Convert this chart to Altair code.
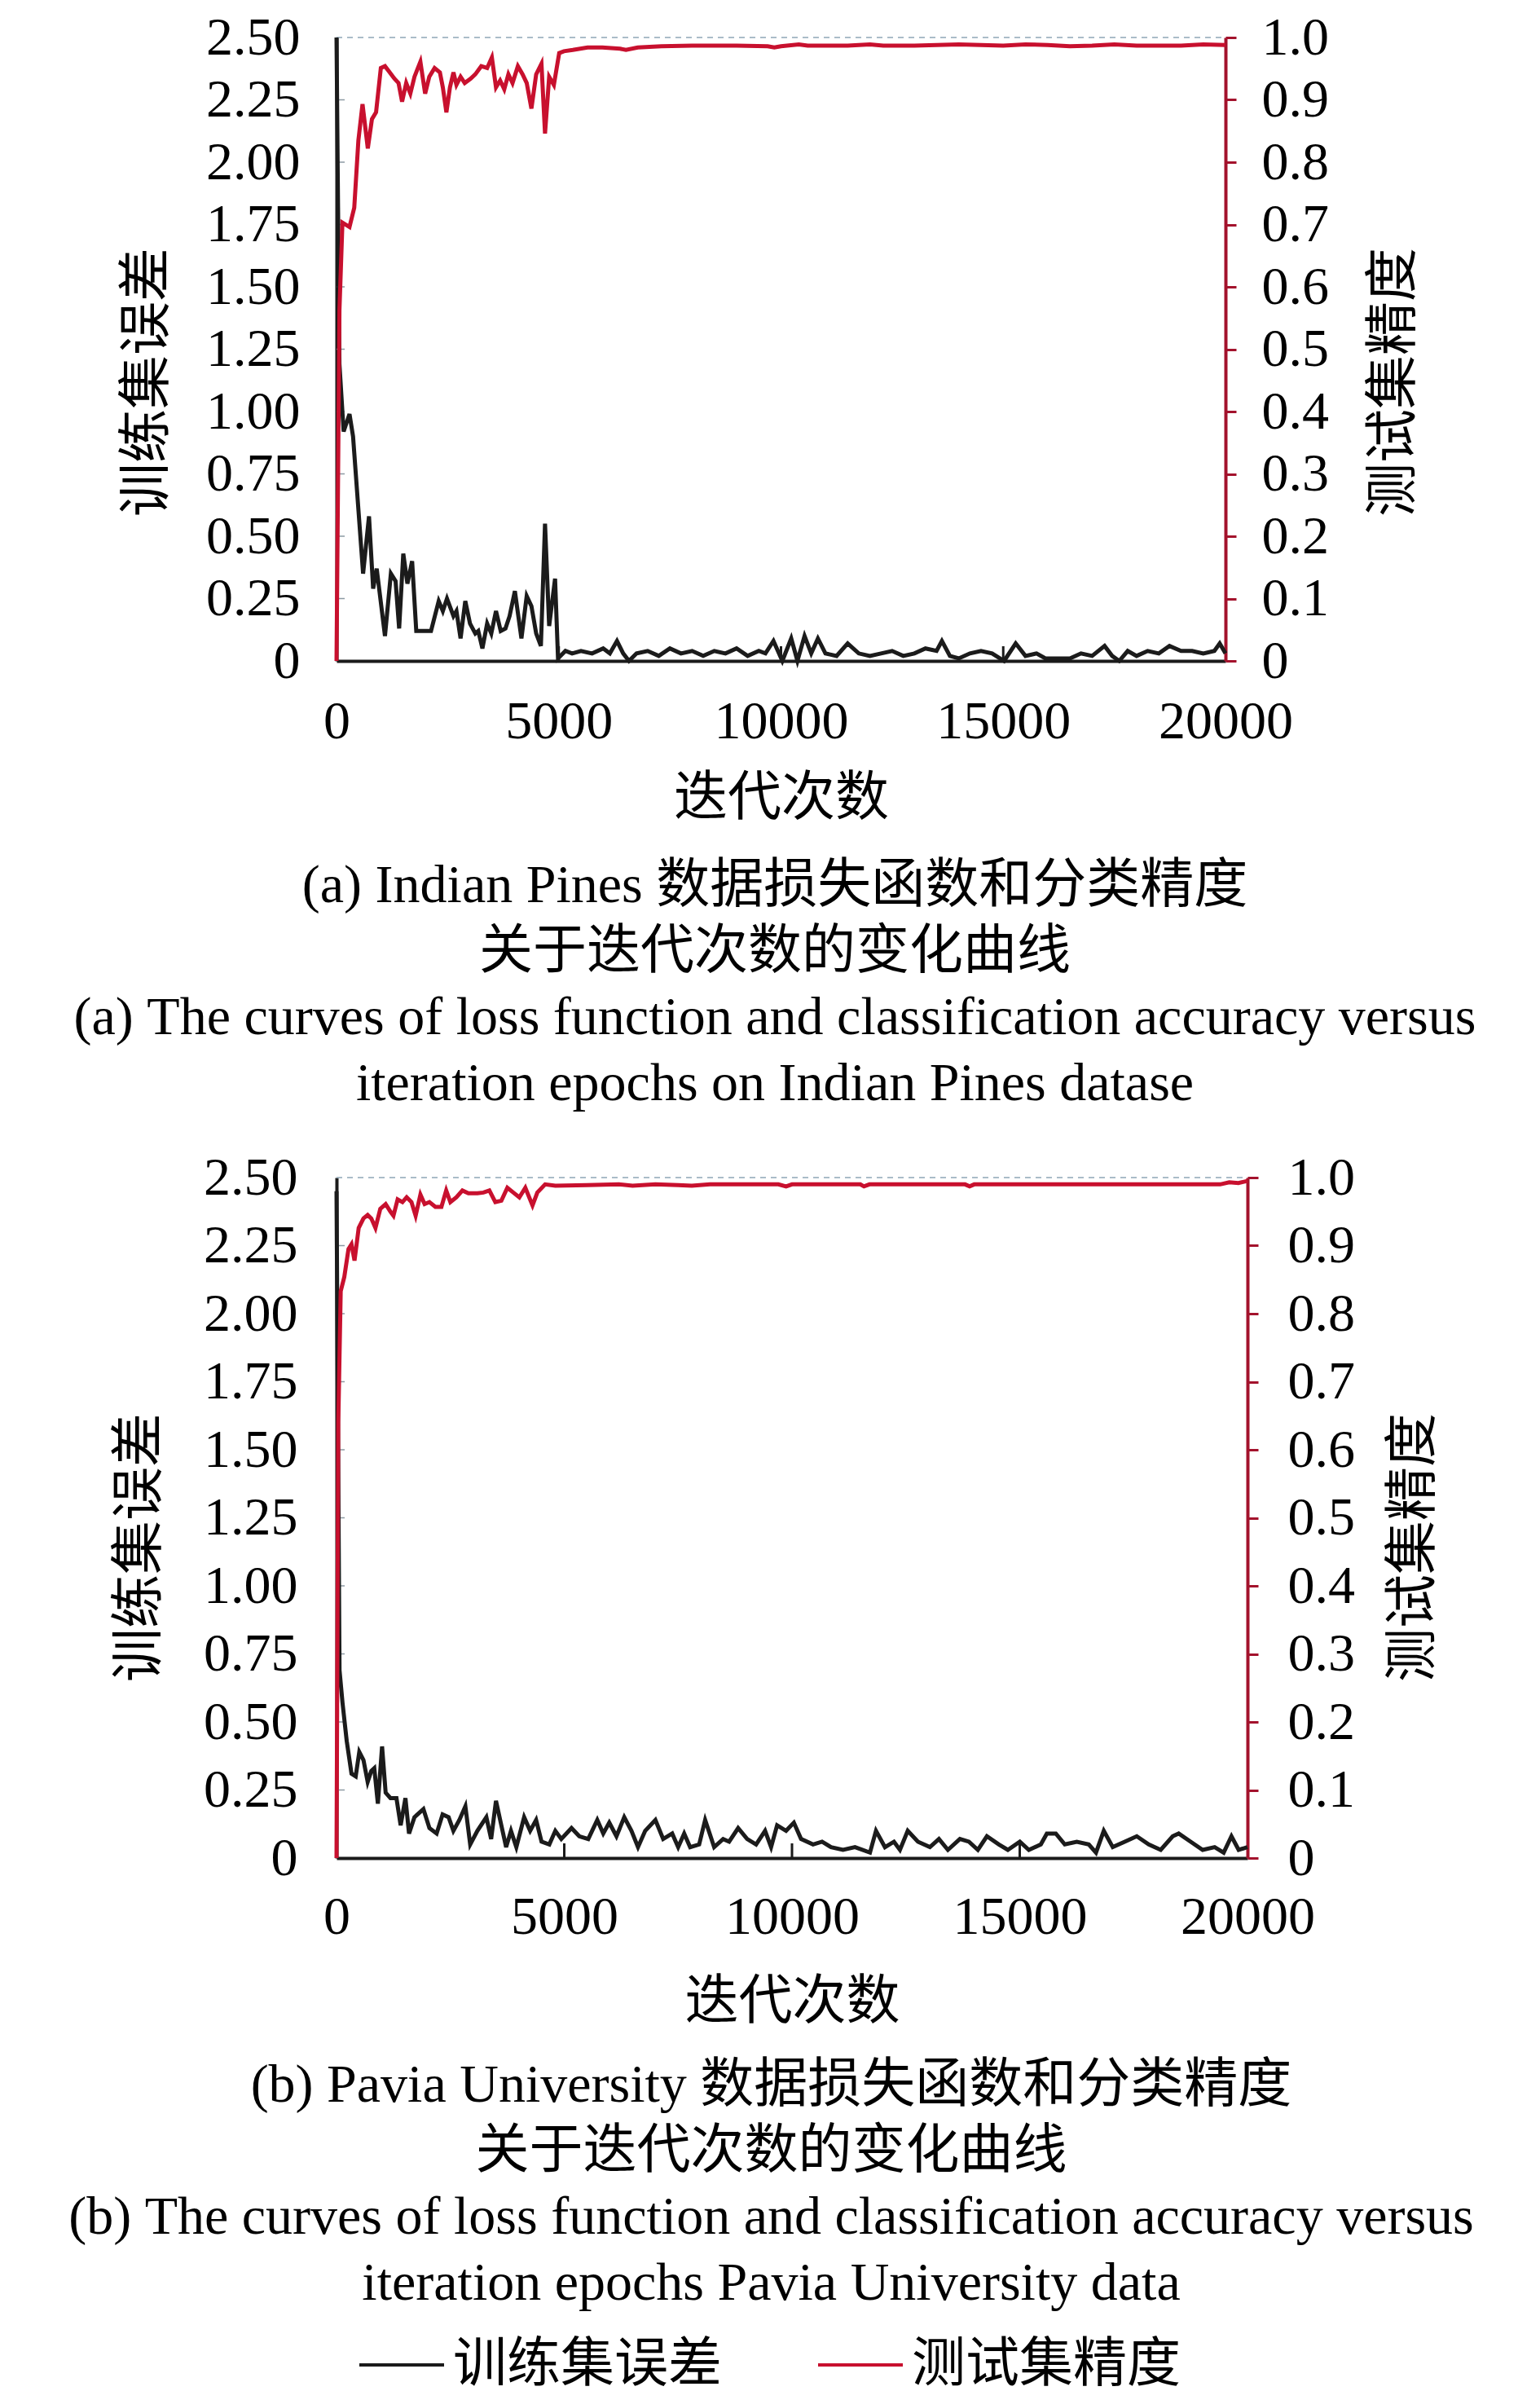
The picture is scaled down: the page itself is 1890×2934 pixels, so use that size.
import altair as alt
import pandas as pd

# ---------------- data ----------------
X_TICKS = [0, 5000, 10000, 15000, 20000]
X_INNER_TICKS = [5000, 10000, 15000]
LEFT_VALUES = [0, 0.25, 0.5, 0.75, 1.0, 1.25, 1.5, 1.75, 2.0, 2.25, 2.5]
LEFT_INNER_TICKS = [0.25, 0.5, 0.75, 1.0, 1.25, 1.5, 1.75, 2.0, 2.25]
RIGHT_VALUES = [0, 0.1, 0.2, 0.3, 0.4, 0.5, 0.6, 0.7, 0.8, 0.9, 1.0]
LEGEND_LABELS = ["训练集误差", "测试集精度"]
X_TITLE = "迭代次数"
LEFT_TITLE = "训练集误差"
RIGHT_TITLE = "测试集精度"

CAPTION_A = ["(a) Indian Pines 数据损失函数和分类精度",
             "关于迭代次数的变化曲线",
             "(a) The curves of loss function and classification accuracy versus",
             "iteration epochs on Indian Pines datase"]
CAPTION_B = ["(b) Pavia University 数据损失函数和分类精度",
             "关于迭代次数的变化曲线",
             "(b) The curves of loss function and classification accuracy versus",
             "iteration epochs Pavia University data"]

# (a) Indian Pines - training loss
A_LOSS_IT = [0, 66, 160, 292, 372, 598, 731, 824, 904, 1090, 1223, 1329, 1409, 1502, 1595,
             1701, 1794, 1967, 2126, 2299, 2392, 2485, 2631, 2698, 2791, 2897, 3003, 3123, 3189,
             3282, 3389, 3482, 3588, 3694, 3801, 3894, 4013, 4160, 4279, 4385, 4492, 4598, 4691,
             4784, 4917, 4983,
             5150, 5300, 5500, 5750, 6000, 6150, 6310, 6450, 6580, 6750, 7000, 7250, 7500, 7750,
             8000, 8250, 8500, 8750, 9000, 9250, 9500, 9650, 9830, 10030, 10230, 10370, 10530,
             10680, 10830, 11000, 11250, 11500, 11750, 12000, 12250, 12500, 12750, 13000, 13250,
             13500, 13620, 13800, 14000, 14250, 14500, 14750, 15020, 15280, 15500, 15750, 15950,
             16250, 16500, 16750, 17000, 17280, 17450, 17610, 17800, 18000, 18250, 18500, 18740,
             19000, 19250, 19500, 19750, 19870, 20000]
A_LOSS_V = [2.50, 1.19, 0.92, 0.99, 0.90, 0.35, 0.58, 0.29, 0.37, 0.10, 0.35, 0.32, 0.13, 0.43, 0.31,
            0.40, 0.12, 0.12, 0.12, 0.24, 0.20, 0.25, 0.18, 0.20, 0.09, 0.24, 0.15, 0.11, 0.12,
            0.05, 0.15, 0.11, 0.20, 0.12, 0.13, 0.18, 0.28, 0.09, 0.26, 0.22, 0.11, 0.06, 0.55,
            0.14, 0.33, 0.01,
            0.04, 0.03, 0.04, 0.03, 0.05, 0.03, 0.08, 0.03, 0.00, 0.03, 0.04, 0.02, 0.05, 0.03,
            0.04, 0.02, 0.04, 0.03, 0.05, 0.02, 0.04, 0.03, 0.08, 0.00, 0.09, 0.00, 0.10,
            0.03, 0.09, 0.03, 0.02, 0.07, 0.03, 0.02, 0.03, 0.04, 0.02, 0.03, 0.05,
            0.04, 0.08, 0.02, 0.01, 0.03, 0.04, 0.03, 0.00, 0.07, 0.02, 0.03, 0.01,
            0.01, 0.01, 0.03, 0.02, 0.06, 0.02, 0.00, 0.04, 0.02, 0.04, 0.03, 0.06,
            0.04, 0.04, 0.03, 0.04, 0.07, 0.03]

# (a) Indian Pines - test accuracy
A_ACC_IT = [0, 66, 133, 292, 399, 492, 585, 704, 797, 890, 997, 1090, 1196, 1302, 1395,
            1475, 1568, 1661, 1754, 1887, 1994, 2087, 2206, 2326, 2392, 2472, 2552, 2631, 2698,
            2791, 2884, 3017, 3123, 3256, 3389, 3495, 3588, 3681, 3774, 3867, 3960, 4080, 4186,
            4279, 4385, 4492, 4611, 4691, 4784, 4890, 5010, 5116, 5316, 5648, 5980, 6379, 6512,
            6778, 7310, 8000, 9000, 9700, 9850, 10000, 10400, 10600, 11500, 12000, 12300, 13000,
            14000, 14500, 15000, 15500, 16000, 16500, 17000, 17500, 18000, 18500, 19000, 19500,
            20000]
A_ACC_V = [0.0, 0.563, 0.703, 0.696, 0.727, 0.835, 0.893, 0.822, 0.869, 0.880, 0.951, 0.954, 0.944,
           0.934, 0.927, 0.897, 0.927, 0.910, 0.937, 0.961, 0.910, 0.937, 0.951, 0.944, 0.920,
           0.880, 0.920, 0.944, 0.924, 0.937, 0.927, 0.934, 0.941, 0.954, 0.951, 0.968, 0.920,
           0.931, 0.917, 0.941, 0.927, 0.954, 0.941, 0.927, 0.886, 0.941, 0.958, 0.846, 0.937,
           0.924, 0.975, 0.978, 0.980, 0.984, 0.984, 0.982, 0.980, 0.984, 0.986, 0.987, 0.987,
           0.986, 0.984, 0.986, 0.989, 0.987, 0.987, 0.989, 0.987, 0.987, 0.989, 0.988, 0.987,
           0.989, 0.988, 0.986, 0.987, 0.989, 0.987, 0.987, 0.987, 0.989, 0.988]

# (b) Pavia University - training loss
B_LOSS_IT = [0, 66, 132, 224, 329, 421, 500, 592, 684, 763,
             829, 908, 1000, 1079, 1184, 1316, 1408, 1513, 1592, 1711,
             1908, 2040, 2198, 2329, 2461, 2566, 2698, 2829, 2935, 3093,
             3290, 3395, 3501, 3619, 3724, 3830, 3948, 4119, 4251, 4382,
             4501, 4672, 4804, 4935, 5159, 5330, 5527, 5725, 5856, 5988,
             6146, 6317, 6475, 6619, 6777, 7001, 7172, 7370, 7501, 7633,
             7764, 7962, 8093, 8291, 8488, 8620, 8817, 9015, 9212, 9409,
             9541, 9673, 9870, 10041, 10199, 10462, 10660, 10857, 11120, 11383,
             11712, 11844, 12041, 12239, 12370, 12541, 12765, 13028, 13226, 13423,
             13686, 13884, 14081, 14279, 14542, 14739, 15002, 15200, 15463, 15595,
             15792, 15989, 16253, 16516, 16674, 16845, 17042, 17305, 17569, 17832,
             18095, 18358, 18490, 18753, 19016, 19279, 19477, 19648, 19806, 20000]
B_LOSS_V = [2.45, 0.69, 0.57, 0.43, 0.31, 0.30, 0.39, 0.36, 0.28, 0.32,
            0.33, 0.20, 0.41, 0.24, 0.22, 0.22, 0.12, 0.22, 0.09, 0.15,
            0.18, 0.11, 0.09, 0.16, 0.15, 0.10, 0.14, 0.19, 0.05, 0.10,
            0.15, 0.07, 0.21, 0.12, 0.04, 0.10, 0.04, 0.15, 0.10, 0.14,
            0.06, 0.05, 0.10, 0.07, 0.11, 0.08, 0.07, 0.14, 0.09, 0.13,
            0.08, 0.15, 0.10, 0.04, 0.10, 0.14, 0.07, 0.09, 0.04, 0.09,
            0.04, 0.05, 0.14, 0.04, 0.07, 0.06, 0.11, 0.07, 0.05, 0.10,
            0.04, 0.12, 0.10, 0.13, 0.07, 0.05, 0.06, 0.04, 0.03, 0.04,
            0.02, 0.10, 0.04, 0.06, 0.03, 0.10, 0.06, 0.04, 0.07, 0.03,
            0.07, 0.06, 0.03, 0.08, 0.05, 0.03, 0.06, 0.03, 0.05, 0.09,
            0.09, 0.05, 0.06, 0.05, 0.02, 0.10, 0.04, 0.06, 0.08, 0.05,
            0.03, 0.08, 0.09, 0.06, 0.03, 0.04, 0.02, 0.08, 0.03, 0.04]

# (b) Pavia University - test accuracy
B_ACC_IT = [0, 39, 92, 171, 263, 329, 395, 487, 592, 684,
            763, 855, 961, 1079, 1184, 1250, 1342, 1448, 1540, 1645,
            1737, 1842, 1934, 2040, 2171, 2303, 2408, 2500, 2632, 2764,
            2895, 3093, 3224, 3356, 3487, 3619, 3751, 3882, 4014, 4145,
            4303, 4409, 4580, 4804, 5500, 6200, 6500, 7000, 7500, 7800,
            8200, 9000, 9700, 9870, 10000, 11000, 11500, 11580, 11700, 13000,
            13800, 13900, 14000, 15000, 16000, 17000, 18000, 19000, 19400, 19600,
            19800, 20000]
B_ACC_V = [0.0, 0.640, 0.833, 0.854, 0.895, 0.902, 0.878, 0.926, 0.940, 0.945,
           0.940, 0.926, 0.954, 0.961, 0.950, 0.944, 0.968, 0.964, 0.971, 0.964,
           0.944, 0.975, 0.961, 0.964, 0.957, 0.957, 0.981, 0.964, 0.971, 0.981,
           0.977, 0.977, 0.978, 0.981, 0.964, 0.966, 0.985, 0.978, 0.971, 0.985,
           0.959, 0.978, 0.990, 0.988, 0.989, 0.990, 0.988, 0.990, 0.989, 0.988,
           0.990, 0.990, 0.990, 0.987, 0.990, 0.990, 0.990, 0.987, 0.990, 0.990,
           0.990, 0.987, 0.990, 0.990, 0.990, 0.990, 0.990, 0.990, 0.990, 0.993,
           0.992, 0.995]

# ---------------- style ----------------
BLACK = "#1b1b1b"
RED = "#c8102e"
AXIS_RED = "#a3122c"
SERIF = "Liberation Serif, Noto Sans CJK SC"
FS = 66


def panel(loss_it, loss_v, acc_it, acc_v, W, H, lpad, rpad, ltx, rtx, ty_off,
          xlab_pad, xtitle_y, caption, cap_dx, cap_offset):
    loss_df = pd.DataFrame({"it": loss_it, "v": loss_v, "s": LEGEND_LABELS[0]})
    acc_df = pd.DataFrame({"it": acc_it, "v": acc_v, "s": LEGEND_LABELS[1]})
    xticks_df = pd.DataFrame({"it": X_INNER_TICKS})
    yticks_df = pd.DataFrame({"t": LEFT_INNER_TICKS})
    one = pd.DataFrame({"a": [0]})

    xscale = alt.Scale(domain=[0, 20000], nice=False, zero=False)
    xaxis = alt.Axis(values=X_TICKS, format="d", title=X_TITLE, grid=False,
                     labelFont=SERIF, labelFontSize=FS, labelColor="black",
                     labelFlush=False, labelOverlap=False,
                     labelPadding=xlab_pad, tickSize=0, domainColor=BLACK, domainWidth=4,
                     titleFont=SERIF, titleFontSize=FS, titleFontWeight="normal",
                     titleColor="black", titleY=xtitle_y, titleBaseline="middle")
    x = alt.X("it:Q", scale=xscale, axis=xaxis)
    color = alt.Color("s:N",
                      scale=alt.Scale(domain=LEGEND_LABELS, range=[BLACK, RED]),
                      legend=alt.Legend(orient="none", legendX=26, legendY=2802,
                                        direction="horizontal", title=None,
                                        symbolType="stroke", symbolSize=10816,
                                        symbolStrokeWidth=4, labelFont=SERIF,
                                        labelFontSize=FS, labelColor="black",
                                        labelLimit=1000,
                                        labelOffset=9, columnPadding=110))

    inner_x = alt.Chart(xticks_df).mark_rule(color=BLACK, strokeWidth=3).encode(
        x=x, y=alt.value(H), y2=alt.value(H - 18))
    inner_y = alt.Chart(yticks_df).mark_rule(color="#8c9aa3", strokeWidth=1.5).encode(
        x=alt.value(0), x2=alt.value(10),
        y=alt.Y("t:Q", scale=alt.Scale(domain=[0, 2.5], nice=False), axis=None))
    top_dash = alt.Chart(one).mark_rule(color="#8fa6b6", strokeWidth=1.5,
                                        strokeDash=[7, 6]).encode(
        x=alt.value(0), x2=alt.value(W), y=alt.value(0))

    loss = alt.Chart(loss_df).mark_line(strokeWidth=5).encode(
        x=x,
        y=alt.Y("v:Q", scale=alt.Scale(domain=[0, 2.5], nice=False),
                axis=alt.Axis(orient="left", values=LEFT_VALUES, grid=False,
                              labelExpr="datum.value == 0 ? '0' : format(datum.value, '.2f')",
                              labelFont=SERIF, labelFontSize=FS, labelColor="black",
                              labelPadding=lpad, tickSize=0,
                              domainColor=BLACK, domainWidth=4,
                              title=LEFT_TITLE, titleFont=SERIF, titleFontSize=FS,
                              titleFontWeight="normal", titleColor="black",
                              titleAngle=270, titleX=ltx, titleY=H / 2 + ty_off,
                              titleBaseline="middle", titleAlign="center")),
        color=color)
    acc = alt.Chart(acc_df).mark_line(strokeWidth=5).encode(
        x=x,
        y=alt.Y("v:Q", scale=alt.Scale(domain=[0, 1.0], nice=False),
                axis=alt.Axis(orient="right", values=RIGHT_VALUES, grid=False,
                              labelExpr="datum.value == 0 ? '0' : format(datum.value, '.1f')",
                              labelFont=SERIF, labelFontSize=FS, labelColor="black",
                              labelPadding=rpad, tickSize=13, tickWidth=3,
                              tickColor=AXIS_RED, domainColor=AXIS_RED, domainWidth=4,
                              title=RIGHT_TITLE, titleFont=SERIF, titleFontSize=FS,
                              titleFontWeight="normal", titleColor="black",
                              titleAngle=270, titleX=rtx, titleY=H / 2 + ty_off,
                              titleBaseline="middle", titleAlign="center")),
        color=color)

    return alt.layer(inner_y, inner_x, top_dash, loss, acc).resolve_scale(
        y="independent").properties(
        width=W, height=H,
        title=alt.TitleParams(text=caption, orient="bottom", anchor="middle",
                              frame="group", fontSize=FS, font=SERIF,
                              fontWeight="normal", color="black", lineHeight=81,
                              offset=cap_offset, dx=cap_dx))


top = panel(A_LOSS_IT, A_LOSS_V, A_ACC_IT, A_ACC_V, W=1091, H=765, lpad=45, rpad=31,
            ltx=-233, rtx=206, ty_off=40, xlab_pad=42, xtitle_y=168, caption=CAPTION_A,
            cap_dx=-7.5, cap_offset=43)
bottom = panel(B_LOSS_IT, B_LOSS_V, B_ACC_IT, B_ACC_V, W=1118, H=835, lpad=48, rpad=36,
               ltx=-242, rtx=203, ty_off=36, xlab_pad=40, xtitle_y=176, caption=CAPTION_B,
               cap_dx=-25.5, cap_offset=38)

chart = alt.vconcat(top, bottom, spacing=47).configure(
    padding={"left": 75, "top": 4, "right": 0, "bottom": 10},
    background="white").configure_view(stroke="transparent")

chart.save("out.html", embed_options={"renderer": "svg", "actions": False})
